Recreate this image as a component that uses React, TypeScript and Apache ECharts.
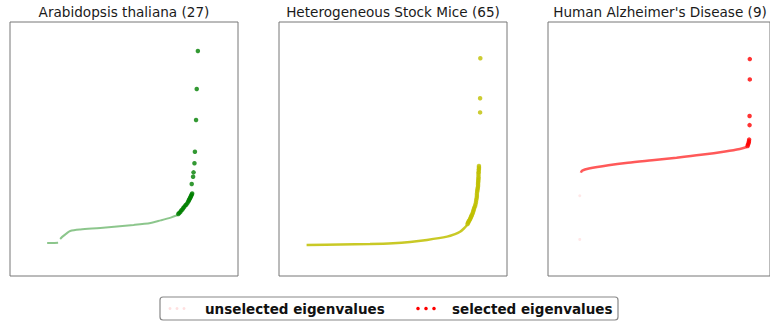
import React, { useEffect, useRef } from "react";
import * as echarts from "echarts";

// Panel titles
const titles = ["Arabidopsis thaliana (27)", "Heterogeneous Stock Mice (65)", "Human Alzheimer's Disease (9)"];

// Panel 1 (green): unselected eigenvalue curve (rank %, value %) and selected eigenvalues
const araUnselected: (number | string)[][] = [
  [16.3, 13.0], [18.5, 13.0], [21.1, 13.1], [21.6, "-"], [22.0, 14.6], [23.3, 15.7], [24.7, 16.7], [26.4, 17.7],
  [30.8, 18.3], [39.6, 18.9], [54.2, 20.1], [61.7, 20.9], [66.1, 21.9], [70.5, 23.0], [73.6, 24.0],
];
const araSelected: number[][] = [
  [73.8, 24.4], [74.2, 24.8], [74.7, 25.2], [75.1, 25.8], [75.6, 26.2], [76.0, 26.8], [76.4, 27.2], [76.9, 27.8],
  [77.3, 28.1], [77.8, 28.7], [78.2, 29.3], [78.4, 29.7], [78.6, 30.1], [78.9, 30.5], [79.1, 30.9], [79.3, 31.3],
  [79.5, 31.7], [79.7, 32.1], [79.9, 32.5],
  [79.7, 36.2], [80.3, 39.1], [80.5, 40.8], [80.9, 44.4], [81.1, 48.9], [81.6, 61.4], [81.9, 73.6], [82.4, 88.6],
];

// Panel 2 (olive): unselected curve and selected eigenvalues
const miceUnselected: number[][] = [
  [12.1, 12.2], [26.8, 12.4], [39.9, 12.6], [50.0, 12.9], [57.5, 13.4], [64.9, 14.2], [73.7, 15.5], [77.2, 16.5],
  [79.4, 17.4], [81.1, 18.7], [82.5, 20.1],
];
const miceSelected: number[][] = [
  [82.7, 20.5], [82.9, 20.9], [83.1, 21.3], [83.3, 21.7], [83.6, 22.0], [83.8, 22.4], [84.0, 22.8], [84.2, 23.2],
  [84.4, 23.6], [84.6, 24.0], [84.9, 24.6], [85.1, 25.2], [85.3, 25.8], [85.5, 26.4], [85.7, 27.0], [86.0, 27.6],
  [86.2, 28.3], [86.4, 29.1], [86.5, 29.9], [86.7, 30.7],
  [86.8, 31.5], [86.8, 32.3], [86.9, 33.1], [87.0, 33.7], [87.1, 34.3], [87.2, 34.8], [87.3, 35.4], [87.3, 36.0],
  [87.3, 36.6], [87.4, 37.2], [87.4, 37.8], [87.5, 38.4], [87.5, 39.0], [87.5, 39.8], [87.5, 40.6], [87.6, 40.9],
  [87.6, 41.7], [87.7, 42.1], [87.7, 42.7], [87.7, 43.3],
  [88.2, 64.4], [88.2, 70.0], [88.3, 85.7],
];

// Panel 3 (red): unselected curve, unselected outliers and selected eigenvalues
const alzUnselected: number[][] = [
  [14.8, 40.7], [15.4, 41.5], [18.4, 42.3], [27.2, 43.6], [36.0, 44.6], [46.9, 45.6], [57.9, 46.6], [68.9, 47.7],
  [79.8, 49.0], [86.4, 50.0], [89.5, 50.8],
];
const alzUnselectedPts: number[][] = [[14.3, 31.6], [14.3, 14.4]];
const alzSelected: number[][] = [
  [90.9, 85.4], [90.9, 77.4], [90.8, 63.0], [90.8, 59.4], [90.6, 53.7], [90.5, 53.0], [90.4, 52.4], [90.1, 51.8],
  [89.9, 51.2],
];

const legendLabels = ["unselected eigenvalues", "selected eigenvalues"];

const panelLeft = [10, 279, 548];
const panelWidth = 228;
const titleCenters = [124, 393, 660];
const FONT = "DejaVu Sans";

export default function App() {
  const ref = useRef<HTMLDivElement>(null);
  useEffect(() => {
    document.body.style.margin = "0";
    const chart = echarts.init(ref.current!, undefined, { renderer: "svg" });
    const grids = panelLeft.map((l) => ({
      left: l,
      top: 22,
      width: panelWidth,
      height: 254,
      show: true,
      borderColor: "#777",
      borderWidth: 1,
      backgroundColor: "#fff",
    }));
    const axis = (i: number) => ({
      type: "value",
      gridIndex: i,
      min: 0,
      max: 100,
      show: false,
      splitLine: { show: false },
    });
    const lineS = (i: number, data: any[], color: string, width = 2) => ({
      type: "line",
      xAxisIndex: i,
      yAxisIndex: i,
      data,
      showSymbol: false,
      smooth: 0.3,
      connectNulls: false,
      lineStyle: { color, width },
      silent: true,
    });
    const dotS = (i: number, data: any[], color: string, size = 4) => ({
      type: "scatter",
      xAxisIndex: i,
      yAxisIndex: i,
      data,
      symbolSize: size,
      itemStyle: { color },
      silent: true,
    });
    const option: any = {
      animation: false,
      backgroundColor: "#fff",
      title: titles.map((t, i) => ({
        text: t,
        left: titleCenters[i],
        top: 5,
        textAlign: "center",
        textStyle: { fontFamily: FONT, fontSize: 13.6, fontWeight: "normal", color: "#1a1a1a" },
        padding: 0,
      })),
      grid: grids,
      xAxis: [0, 1, 2].map(axis),
      yAxis: [0, 1, 2].map(axis),
      series: [
        lineS(0, araUnselected, "rgba(0,128,0,0.45)", 2),
        dotS(0, araSelected, "#008000", 4.5),
        lineS(1, miceUnselected, "rgba(191,191,0,0.85)", 2.5),
        dotS(1, miceSelected, "#bfbf00", 4.5),
        lineS(2, alzUnselected, "rgba(255,0,0,0.65)", 2.5),
        dotS(2, alzUnselectedPts, "rgba(255,0,0,0.12)", 3),
        dotS(2, alzSelected, "#ff0000", 4.5),
      ],
      graphic: [
        {
          type: "rect",
          shape: { x: 160, y: 297, width: 458, height: 23, r: 3 },
          style: { fill: "#fff", stroke: "#888", lineWidth: 1.2 },
        },
        ...[168, 175, 182].map((x) => ({
          type: "circle",
          shape: { cx: x + 2, cy: 308.5, r: 1.5 },
          style: { fill: "rgba(255,0,0,0.12)" },
        })),
        {
          type: "text",
          x: 205,
          y: 309,
          style: {
            text: legendLabels[0],
            fontFamily: FONT,
            fontSize: 13.5,
            fontWeight: "bold",
            fill: "#111",
            verticalAlign: "middle",
          },
        },
        ...[416, 424, 432].map((x) => ({
          type: "circle",
          shape: { cx: x + 2, cy: 308.5, r: 1.8 },
          style: { fill: "#ff0000" },
        })),
        {
          type: "text",
          x: 452,
          y: 309,
          style: {
            text: legendLabels[1],
            fontFamily: FONT,
            fontSize: 13.5,
            fontWeight: "bold",
            fill: "#111",
            verticalAlign: "middle",
          },
        },
      ],
    };
    chart.setOption(option);
    return () => chart.dispose();
  }, []);
  return <div ref={ref} style={{ width: 770, height: 324 }} />;
}
